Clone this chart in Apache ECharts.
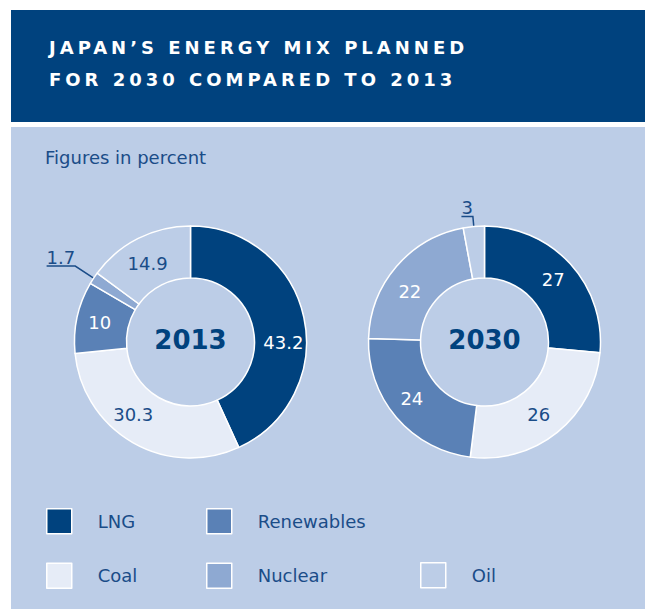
<!DOCTYPE html>
<html><head><meta charset="utf-8">
<script src="https://cdn.jsdelivr.net/npm/echarts@6/dist/echarts.min.js"></script>
<style>html,body{margin:0;padding:0;background:#fff}#chart{width:645px;height:609px}</style>
</head><body><div id="chart"></div>
<script>
// ---- data ----
const categories = ['LNG', 'Coal', 'Renewables', 'Nuclear', 'Oil'];
const values2013 = [43.2, 30.3, 10, 1.7, 14.9];
const values2030 = [27, 26, 24, 22, 3];
const years = ['2013', '2030'];
const titleLines = ['JAPAN\u2019S ENERGY MIX PLANNED', 'FOR 2030 COMPARED TO 2013'];
const subtitle = 'Figures in percent';
const legendColumns = [['LNG', 'Coal'], ['Renewables', 'Nuclear'], ['Oil']];

// ---- style ----
const FONT = '"DejaVu Sans", Verdana, sans-serif';
const DARK = '#00427e';
const TEXT = '#1a4c88';
const PANEL = '#bccde7';
const sliceColors = { LNG: '#00427e', Coal: '#e6ecf7', Renewables: '#5a81b6', Nuclear: '#8ea9d2', Oil: PANEL };
const labelColors = { LNG: '#ffffff', Coal: TEXT, Renewables: '#ffffff', Nuclear: '#ffffff', Oil: TEXT };
// small manual label nudges (style only) to follow the reference label placement
const labelNudge2013 = { LNG: [2, 20], Coal: [-11, -8], Oil: [-1, 5] };
const labelNudge2030 = { Nuclear: [-4, 10], Coal: [-4, 0], Renewables: [-2, -4] };

const chart = echarts.init(document.getElementById('chart'), null, { renderer: 'svg' });

function pieSeries(values, center, lineLen, nudges) {
  return {
    type: 'pie',
    center: center,
    radius: [64, 116],
    startAngle: 90,
    clockwise: true,
    avoidLabelOverlap: false,
    silent: true,
    animation: false,
    emphasis: { disabled: true },
    itemStyle: { borderColor: '#ffffff', borderWidth: 1.5 },
    label: { position: 'inside', fontFamily: FONT, fontSize: 18, formatter: '{c}' },
    labelLine: { show: false },
    labelLayout: function (params) {
      const name = categories[params.dataIndex];
      if (values[params.dataIndex] >= 5) {
        const n = nudges[name];
        return n ? { dx: n[0], dy: n[1] } : {};
      }
      const pts = params.labelLinePoints;
      if (!pts) return {};
      const r = params.labelRect;
      const p = pts.map(function (q) { return q.slice(); });
      const isLeft = r.x + r.width / 2 < p[0][0];
      p[2][0] = isLeft ? r.x : r.x + r.width;
      return { labelLinePoints: p, dy: -r.height / 2 };
    },
    data: categories.map(function (name, i) {
      const small = values[i] < 5;
      return {
        name: name,
        value: values[i],
        itemStyle: { color: sliceColors[name] },
        label: small
          ? { position: 'outside', color: TEXT, distanceToLabelLine: 0 }
          : { color: labelColors[name] },
        labelLine: small
          ? { show: true, length: lineLen, length2: 0, lineStyle: { color: TEXT, width: 1.5 } }
          : { show: false }
      };
    })
  };
}

const option = {
  animation: false,
  backgroundColor: '#ffffff',
  graphic: [
    { type: 'rect', z: -10, silent: true, shape: { x: 11, y: 10, width: 634, height: 112 }, style: { fill: DARK } },
    { type: 'rect', z: -10, silent: true, shape: { x: 11, y: 127, width: 634, height: 482 }, style: { fill: PANEL } },
    { type: 'text', z: 5, silent: true, style: { text: titleLines[0], x: 49, y: 47, fill: '#ffffff', fontFamily: FONT, fontWeight: 'bold', fontSize: 18, verticalAlign: 'middle' } },
    { type: 'text', z: 5, silent: true, style: { text: titleLines[1], x: 49, y: 79, fill: '#ffffff', fontFamily: FONT, fontWeight: 'bold', fontSize: 18, verticalAlign: 'middle' } },
    { type: 'text', z: 5, silent: true, style: { text: subtitle, x: 45, y: 157, fill: TEXT, fontFamily: FONT, fontSize: 18, verticalAlign: 'middle' } },
    { type: 'text', z: 5, silent: true, style: { text: years[0], x: 190.5, y: 340, fill: DARK, fontFamily: FONT, fontWeight: 'bold', fontSize: 26, align: 'center', verticalAlign: 'middle' } },
    { type: 'text', z: 5, silent: true, style: { text: years[1], x: 484.5, y: 340, fill: DARK, fontFamily: FONT, fontWeight: 'bold', fontSize: 26, align: 'center', verticalAlign: 'middle' } }
  ],
  legend: legendColumns.map(function (names, ci) {
    return {
      data: names,
      orient: 'vertical',
      left: [46, 206, 420][ci],
      top: ci === 2 ? 562 : 508,
      padding: 0,
      itemGap: 28,
      itemWidth: 25,
      itemHeight: 25,
      icon: 'rect',
      selectedMode: false,
      itemStyle: { borderColor: '#ffffff', borderWidth: 1.5 },
      textStyle: { fontFamily: FONT, fontSize: 18, color: TEXT, padding: [0, 0, 0, 21] }
    };
  }),
  series: [
    pieSeries(values2013, [190.5, 342], 22, labelNudge2013),
    pieSeries(values2030, [484.5, 342], 10, labelNudge2030)
  ]
};

chart.setOption(option);

function applySpacing() {
  document.querySelectorAll('#chart text').forEach(function (t) {
    if (titleLines.indexOf(t.textContent) >= 0) {
      t.style.letterSpacing = '4px';
    }
  });
}
chart.on('rendered', applySpacing);
applySpacing();
setTimeout(applySpacing, 50);
setTimeout(applySpacing, 300);
</script>
</body></html>
